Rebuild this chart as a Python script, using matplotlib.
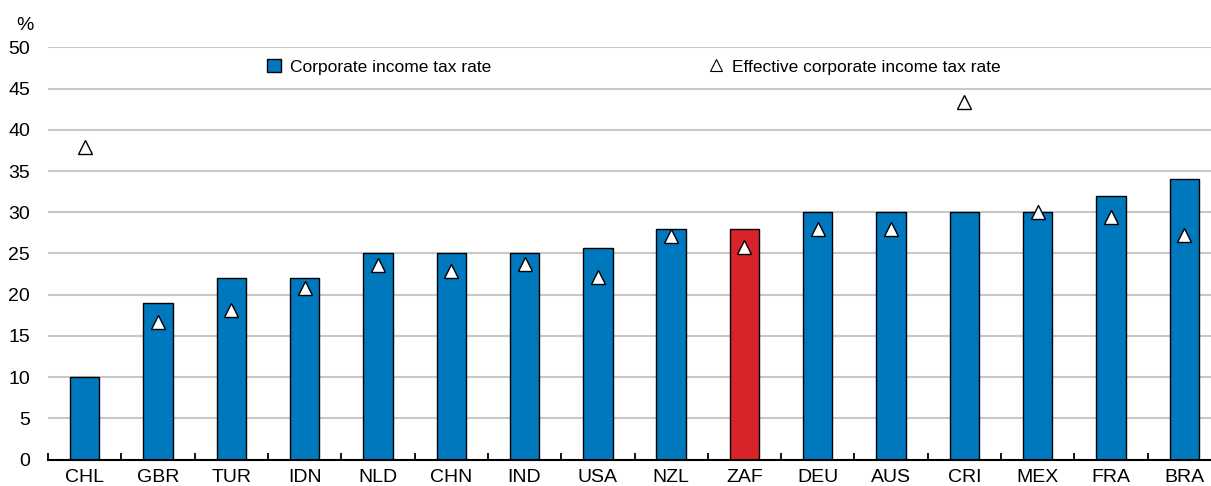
import numpy as np
import matplotlib
matplotlib.use("Agg")
import matplotlib.pyplot as plt
from matplotlib.patches import Patch
from matplotlib.lines import Line2D

plt.rcParams['font.family'] = ['Liberation Sans Narrow', 'Liberation Sans', 'DejaVu Sans']

# data
countries = ['CHL', 'GBR', 'TUR', 'IDN', 'NLD', 'CHN', 'IND', 'USA',
             'NZL', 'ZAF', 'DEU', 'AUS', 'CRI', 'MEX', 'FRA', 'BRA']
statutory = [10, 19, 22, 22, 25, 25, 25.1, 25.7,
             28, 28, 30, 30, 30, 30, 32, 34]
effective = [37.9, 16.7, 18.2, 20.8, 23.6, 22.9, 23.7, 22.2,
             27.1, 25.8, 28.0, 28.0, 43.4, 30.0, 29.4, 27.2]
highlight = 'ZAF'

blue = '#0078BE'
red = '#D9232A'

fig = plt.figure(figsize=(12.11, 4.86), dpi=100)
# axes run slightly past the right edge, as in the source image
ax = fig.add_axes([48 / 1211, 26.5 / 486, 1173 / 1211, 412 / 486])

x = np.arange(len(countries))
colors = [red if c == highlight else blue for c in countries]
ax.bar(x, statutory, width=0.4, color=colors, edgecolor='black', linewidth=1.0, zorder=2)
ax.plot(x, effective, linestyle='none', marker='^', markersize=9.5,
        markerfacecolor='white', markeredgecolor='black', markeredgewidth=1.0, zorder=3)

ax.set_xlim(-0.5, len(countries) - 0.5)
ax.set_ylim(0, 50)
ax.set_yticks(np.arange(0, 51, 5))
ax.yaxis.grid(True, color='#c8c8c8', linewidth=1.5, zorder=0)
ax.set_axisbelow(True)

ax.set_xticks(x)
ax.set_xticklabels(countries, fontsize=14)
ax.set_xticks(np.arange(-0.5, len(countries), 1), minor=True)
ax.tick_params(axis='x', which='major', length=0, pad=7)
ax.tick_params(axis='x', which='minor', direction='in', length=5, width=1.3, color='black')
ax.tick_params(axis='y', length=0, pad=13, labelsize=14)

for s in ['top', 'right', 'left']:
    ax.spines[s].set_visible(False)
ax.spines['bottom'].set_linewidth(1.5)

fig.text(16 / 1211, 1 - 25 / 486, '%', fontsize=14, ha='left', va='center')

handles = [Patch(facecolor=blue, edgecolor='black', linewidth=1.0),
           Line2D([], [], linestyle='none', marker='^', markersize=8,
                  markerfacecolor='white', markeredgecolor='black', markeredgewidth=0.8)]
ax.legend(handles, ['Corporate income tax rate', 'Effective corporate income tax rate'],
          ncol=2, loc='center left', bbox_to_anchor=((267 - 48) / 1173, (459.5 - 67) / 412),
          frameon=False, fontsize=12.5, handlelength=0.8, handleheight=0.8,
          handletextpad=0.55, columnspacing=12.5, borderaxespad=0, borderpad=0)

fig.savefig('out.png', dpi=100)
